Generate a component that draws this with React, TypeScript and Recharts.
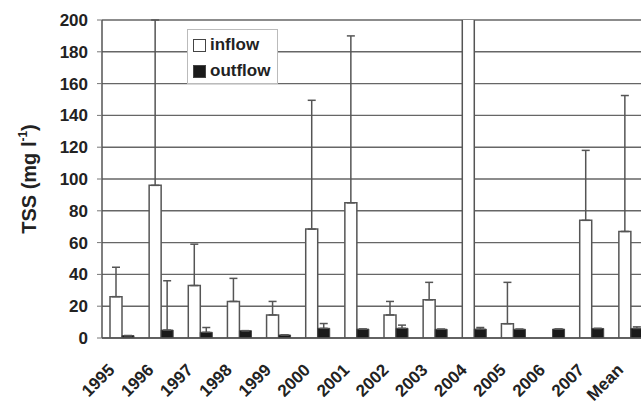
import React from 'react';
import { BarChart, Bar, XAxis, YAxis, CartesianGrid, ErrorBar, Legend, Label } from 'recharts';

// TSS inflow / outflow per year (mg l-1), upper error only
const years = ['1995', '1996', '1997', '1998', '1999', '2000', '2001', '2002', '2003', '2004', '2005', '2006', '2007', 'Mean'];
const inflow = [26, 96, 33, 23, 14.5, 68.5, 85, 14.5, 24, 230, 9, null, 74, 67];
const inflowErr = [18.5, 104, 26, 14.5, 8.5, 81, 105, 8.5, 11, 0, 26, null, 44, 85.5];
const outflow = [1.5, 5, 3.6, 4.6, 1.9, 6.1, 5.6, 6.1, 5.5, 5.6, 5.5, 5.6, 6, 6];
const outflowErr = [0, 31, 3, 0, 0, 3, 0, 2, 0, 1, 0, 0, 0, 1];
const yTicks = [0, 20, 40, 60, 80, 100, 120, 140, 160, 180, 200];

const data = years.map((year, i) => ({
  year,
  inflow: inflow[i],
  inflowErr: inflowErr[i] == null ? null : [0, inflowErr[i]],
  outflow: outflow[i],
  outflowErr: [0, outflowErr[i]],
}));

const FONT = '"Liberation Sans", Arial, sans-serif';
const INK = '#222';

const XTick = ({ x, y, payload }: any) => (
  <g transform={`translate(${x - 6},${y + 33})`}>
    <text transform="rotate(-45)" textAnchor="end" fontFamily={FONT} fontWeight="bold" fontSize={17} fill={INK}>
      {payload.value}
    </text>
  </g>
);

const yLabel = () => (
  <text
    transform="translate(36,179) rotate(-90)"
    textAnchor="middle"
    fontFamily={FONT}
    fontWeight="bold"
    fontSize={20}
    fill={INK}
  >
    TSS (mg l<tspan fontSize={12} dy={-9}>-1</tspan>
    <tspan dy={9}>)</tspan>
  </text>
);

const LegendBox = () => (
  <div
    style={{
      background: '#fff',
      border: '1px solid #bbb',
      width: 89,
      height: 53,
      fontFamily: FONT,
      fontWeight: 'bold',
      fontSize: 17,
      color: INK,
      boxSizing: 'content-box',
    }}
  >
    {[
      { name: 'inflow', fill: '#fff' },
      { name: 'outflow', fill: '#1a1a1a' },
    ].map((it, i) => (
      <div key={it.name} style={{ display: 'flex', alignItems: 'center', height: 26, marginTop: i === 0 ? 2 : 0 }}>
        <span
          style={{
            display: 'inline-block',
            width: 11,
            height: 11,
            marginLeft: 5,
            marginRight: 4,
            background: it.fill,
            border: '1.5px solid #444',
          }}
        />
        {it.name}
      </div>
    ))}
  </div>
);

export default function App() {
  return (
    <div style={{ position: 'absolute', left: 0, top: 0, width: 641, height: 406, overflow: 'hidden', background: '#fff' }}>
      <BarChart
        width={662}
        height={406}
        data={data}
        margin={{ top: 20, right: 12, left: 0, bottom: 0 }}
        barSize={12}
        barGap={0}
      >
        <CartesianGrid vertical={false} stroke="#666" strokeWidth={1.4} />
        <XAxis
          dataKey="year"
          interval={0}
          height={68}
          tickLine={false}
          tickSize={0}
          tickMargin={0}
          tick={<XTick />}
          axisLine={{ stroke: '#555', strokeWidth: 1.5 }}
        />
        <YAxis
          width={102}
          domain={[0, 200]}
          ticks={yTicks}
          allowDataOverflow
          tickSize={5}
          tickMargin={9}
          tickLine={{ stroke: '#777' }}
          axisLine={{ stroke: '#555', strokeWidth: 1.5 }}
          tick={{ fontFamily: FONT, fontWeight: 'bold', fontSize: 17, fill: INK }}
        >
          <Label content={yLabel} />
        </YAxis>
        <Legend
          layout="vertical"
          align="center"
          verticalAlign="middle"
          content={<LegendBox />}
          wrapperStyle={{ left: 187, top: 29, width: 91, height: 55 }}
        />
        <Bar dataKey="inflow" name="inflow" fill="#fff" stroke="#555" strokeWidth={1.5} isAnimationActive={false}>
          <ErrorBar dataKey="inflowErr" direction="y" width={4} stroke="#555" strokeWidth={1.5} />
        </Bar>
        <Bar dataKey="outflow" name="outflow" fill="#1a1a1a" stroke="#444" strokeWidth={1} isAnimationActive={false}>
          <ErrorBar dataKey="outflowErr" direction="y" width={4} stroke="#555" strokeWidth={1.5} />
        </Bar>
      </BarChart>
    </div>
  );
}
